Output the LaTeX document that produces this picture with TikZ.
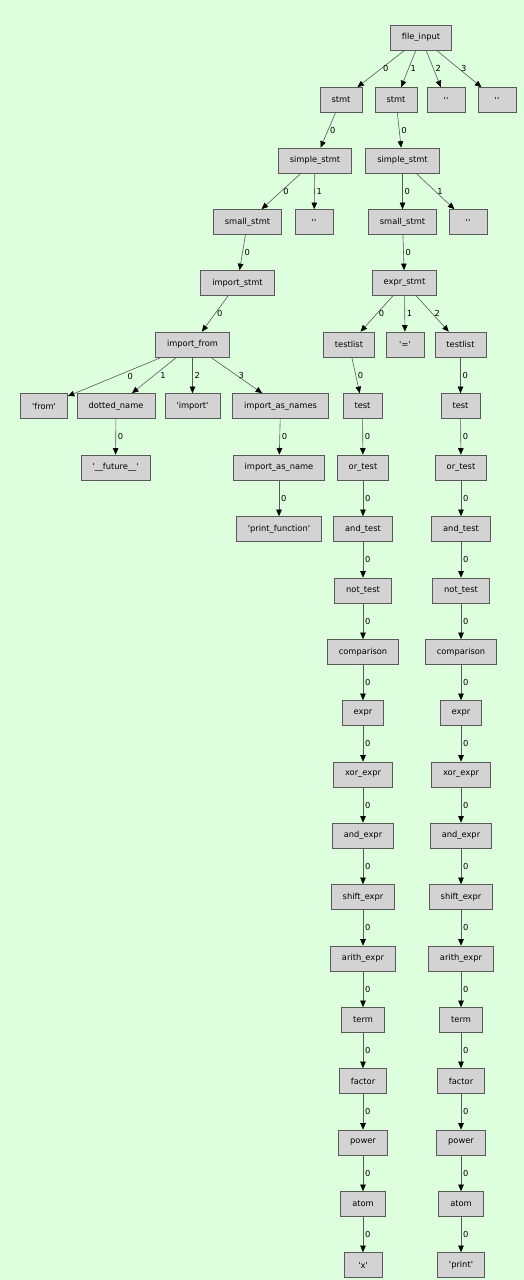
\documentclass[tikz,border=0pt]{standalone}
\usepackage{fontspec}
\setmainfont{DejaVu Sans}[Ligatures=TeXOff]
\usepackage{tikz}
\usetikzlibrary{arrows.meta}
\definecolor{bggreen}{RGB}{221,255,221}
\definecolor{boxgray}{RGB}{211,211,211}
\tikzset{
	pt/.style={draw=black!65,line width=0.7pt,fill=boxgray,minimum width=38pt,minimum height=25pt,inner xsep=11.5pt,inner ysep=2pt,font=\fontsize{8.3}{9}\selectfont},
	lnk/.style={draw=black!65,line width=0.6pt,-{Triangle[length=6.5pt,width=5.5pt,color=black]}},
	lab/.style={midway,anchor=west,inner sep=1.8pt,font=\fontsize{8.3}{9}\selectfont}
}
\begin{document}
\begin{tikzpicture}[x=1pt,y=-1pt]
	\fill[bggreen] (0,0) rectangle (524,1280);
	\useasboundingbox (0,0) rectangle (524,1280);

	\node [pt] (fi) at (421,37.5) {file\_input};

	\node [pt] (st1) at (341,100) {stmt};
	\node [pt] (st2) at (396,100) {stmt};
	\node [pt] (q1) at (446,100) {''};
	\node [pt] (q2) at (497,100) {''};

	\node [pt] (ss1) at (315,160.5) {simple\_stmt};
	\node [pt] (ss2) at (402.5,160.5) {simple\_stmt};

	\node [pt] (sm1) at (247.5,222) {small\_stmt};
	\node [pt] (q3) at (314,222) {''};
	\node [pt] (sm2) at (402.5,222) {small\_stmt};
	\node [pt] (q4) at (468,222) {''};

	\node [pt] (is) at (237.5,283) {import\_stmt};
	\node [pt] (es) at (404.5,283) {expr\_stmt};

	\node [pt] (ifr) at (192.5,344.5) {import\_from};
	\node [pt] (tl1) at (349,344.5) {testlist};
	\node [pt] (eq) at (405,344.5) {'='};
	\node [pt] (tl2) at (460.5,344.5) {testlist};

	\node [pt] (fr) at (44,406) {'from'};
	\node [pt] (dn) at (116,406) {dotted\_name};
	\node [pt] (im) at (192.5,406) {'import'};
	\node [pt] (ians) at (280.5,406) {import\_as\_names};
	\node [pt] (te1) at (362.5,406) {test};
	\node [pt] (te2) at (460.5,406) {test};

	\node [pt] (fu) at (115.5,467.5) {'\_\_future\_\_'};
	\node [pt] (ian) at (279,467.5) {import\_as\_name};
	\node [pt] (or1) at (363,467.5) {or\_test};
	\node [pt] (or2) at (461,467.5) {or\_test};

	\node [pt] (pf) at (279,529) {'print\_function'};
	\node [pt] (an1) at (363,529) {and\_test};
	\node [pt] (an2) at (461,529) {and\_test};

	\node [pt] (nt1) at (363,590.5) {not\_test};
	\node [pt] (nt2) at (461,590.5) {not\_test};
	\node [pt] (cm1) at (363,652) {comparison};
	\node [pt] (cm2) at (461,652) {comparison};
	\node [pt] (ex1) at (363,713) {expr};
	\node [pt] (ex2) at (461,713) {expr};
	\node [pt] (xo1) at (363,774.5) {xor\_expr};
	\node [pt] (xo2) at (461,774.5) {xor\_expr};
	\node [pt] (ae1) at (363,835.5) {and\_expr};
	\node [pt] (ae2) at (461,835.5) {and\_expr};
	\node [pt] (sh1) at (363,897) {shift\_expr};
	\node [pt] (sh2) at (461,897) {shift\_expr};
	\node [pt] (ar1) at (363,958.5) {arith\_expr};
	\node [pt] (ar2) at (461,958.5) {arith\_expr};
	\node [pt] (tm1) at (363,1020) {term};
	\node [pt] (tm2) at (461,1020) {term};
	\node [pt] (fc1) at (363,1081) {factor};
	\node [pt] (fc2) at (461,1081) {factor};
	\node [pt] (pw1) at (363,1142.5) {power};
	\node [pt] (pw2) at (461,1142.5) {power};
	\node [pt] (at1) at (363,1204) {atom};
	\node [pt] (at2) at (461,1204) {atom};
	\node [pt] (xx) at (363,1265) {'x'};
	\node [pt] (pr) at (461,1265) {'print'};

	\draw [lnk] (fi) -- node[lab] {0} (st1);
	\draw [lnk] (fi) -- node[lab] {1} (st2);
	\draw [lnk] (fi) -- node[lab] {2} (q1);
	\draw [lnk] (fi) -- node[lab] {3} (q2);
	\draw [lnk] (st1) -- node[lab] {0} (ss1);
	\draw [lnk] (st2) -- node[lab] {0} (ss2);
	\draw [lnk] (ss1) -- node[lab] {0} (sm1);
	\draw [lnk] (ss1) -- node[lab] {1} (q3);
	\draw [lnk] (ss2) -- node[lab] {0} (sm2);
	\draw [lnk] (ss2) -- node[lab] {1} (q4);
	\draw [lnk] (sm1) -- node[lab] {0} (is);
	\draw [lnk] (sm2) -- node[lab] {0} (es);
	\draw [lnk] (is) -- node[lab] {0} (ifr);
	\draw [lnk] (es) -- node[lab] {0} (tl1);
	\draw [lnk] (es) -- node[lab] {1} (eq);
	\draw [lnk] (es) -- node[lab] {2} (tl2);
	\draw [lnk] (ifr) -- node[lab,xshift=11pt] {0} (fr);
	\draw [lnk] (ifr) -- node[lab,xshift=4pt] {1} (dn);
	\draw [lnk] (ifr) -- node[lab] {2} (im);
	\draw [lnk] (ifr) -- node[lab] {3} (ians);
	\draw [lnk] (tl1) -- node[lab] {0} (te1);
	\draw [lnk] (tl2) -- node[lab] {0} (te2);
	\draw [lnk] (dn) -- node[lab] {0} (fu);
	\draw [lnk] (ians) -- node[lab] {0} (ian);
	\draw [lnk] (ian) -- node[lab] {0} (pf);
	\draw [lnk] (te1) -- node[lab] {0} (or1);
	\draw [lnk] (te2) -- node[lab] {0} (or2);
	\draw [lnk] (or1) -- node[lab] {0} (an1);
	\draw [lnk] (or2) -- node[lab] {0} (an2);
	\draw [lnk] (an1) -- node[lab] {0} (nt1);
	\draw [lnk] (an2) -- node[lab] {0} (nt2);
	\draw [lnk] (nt1) -- node[lab] {0} (cm1);
	\draw [lnk] (nt2) -- node[lab] {0} (cm2);
	\draw [lnk] (cm1) -- node[lab] {0} (ex1);
	\draw [lnk] (cm2) -- node[lab] {0} (ex2);
	\draw [lnk] (ex1) -- node[lab] {0} (xo1);
	\draw [lnk] (ex2) -- node[lab] {0} (xo2);
	\draw [lnk] (xo1) -- node[lab] {0} (ae1);
	\draw [lnk] (xo2) -- node[lab] {0} (ae2);
	\draw [lnk] (ae1) -- node[lab] {0} (sh1);
	\draw [lnk] (ae2) -- node[lab] {0} (sh2);
	\draw [lnk] (sh1) -- node[lab] {0} (ar1);
	\draw [lnk] (sh2) -- node[lab] {0} (ar2);
	\draw [lnk] (ar1) -- node[lab] {0} (tm1);
	\draw [lnk] (ar2) -- node[lab] {0} (tm2);
	\draw [lnk] (tm1) -- node[lab] {0} (fc1);
	\draw [lnk] (tm2) -- node[lab] {0} (fc2);
	\draw [lnk] (fc1) -- node[lab] {0} (pw1);
	\draw [lnk] (fc2) -- node[lab] {0} (pw2);
	\draw [lnk] (pw1) -- node[lab] {0} (at1);
	\draw [lnk] (pw2) -- node[lab] {0} (at2);
	\draw [lnk] (at1) -- node[lab] {0} (xx);
	\draw [lnk] (at2) -- node[lab] {0} (pr);
\end{tikzpicture}
\end{document}
